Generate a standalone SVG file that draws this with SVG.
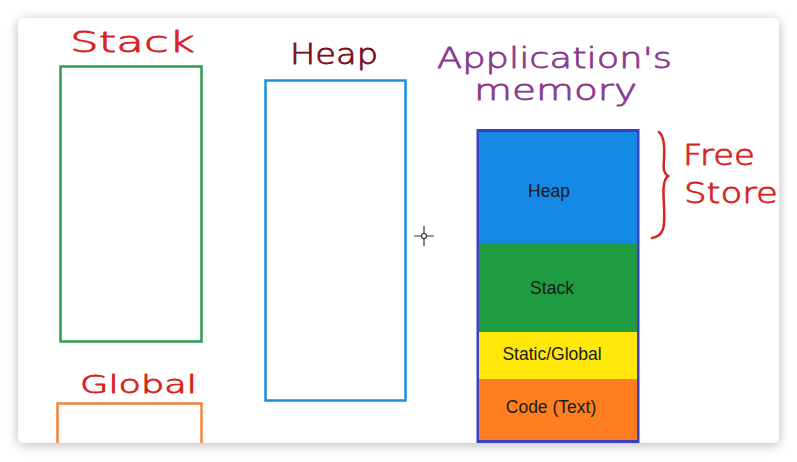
<svg xmlns="http://www.w3.org/2000/svg" width="797" height="462" viewBox="0 0 797 462">
<defs>
<filter id="sh" x="-5%" y="-5%" width="110%" height="115%">
<feDropShadow dx="0" dy="2" stdDeviation="6" flood-color="#000" flood-opacity="0.28"/>
</filter>
<clipPath id="card"><rect x="18" y="18" width="761" height="425" rx="6"/></clipPath>
<style>
.hw{font-family:"DejaVu Sans","Liberation Sans",sans-serif;font-weight:200;stroke-width:0.8;stroke-linejoin:round}
.red{fill:#d8231f;stroke:#d8231f}
.lbl{font-family:"Liberation Sans",Arial,sans-serif;font-size:17.5px;fill:#1a1a1a;text-anchor:middle}
.box{fill:none;stroke-width:2.5}
</style>
</defs>
<rect width="797" height="462" fill="#ffffff"/>
<rect x="18" y="18" width="761" height="425" rx="6" fill="#ffffff" filter="url(#sh)"/>
<g clip-path="url(#card)">
<g id="stack-box">
<text class="hw red" x="70" y="52" font-size="29" textLength="125" lengthAdjust="spacingAndGlyphs">Stack</text>
<rect class="box" x="60.5" y="66.5" width="141" height="275" stroke="#2e9b52"/>
</g>
<g id="heap-box">
<text class="hw" x="290" y="64" font-size="29" fill="#7a0d1e" stroke="#7a0d1e" textLength="88" lengthAdjust="spacingAndGlyphs">Heap</text>
<rect class="box" x="265.5" y="80.5" width="140" height="320" stroke="#1e90d8"/>
</g>
<g id="global-box">
<text class="hw red" x="80" y="393" font-size="24" textLength="117" lengthAdjust="spacingAndGlyphs">Global</text>
<rect class="box" x="57.5" y="403.5" width="144" height="60" stroke="#f5823a"/>
</g>
<g id="title">
<text class="hw" x="437" y="68" font-size="29" fill="#8b3b8f" stroke="#8b3b8f" textLength="235" lengthAdjust="spacingAndGlyphs">Application's</text>
<text class="hw" x="474" y="100" font-size="29" fill="#8b3b8f" stroke="#8b3b8f" textLength="163" lengthAdjust="spacingAndGlyphs">memory</text>
</g>
<g id="memory">
<rect x="476.5" y="129" width="163" height="320" fill="#3a3fc4"/>
<rect x="479" y="132" width="158" height="111" fill="#148ae6"/>
<rect x="479" y="243" width="158" height="89" fill="#1f9c41"/>
<rect x="479" y="332" width="158" height="47" fill="#ffe70a"/>
<rect x="479" y="379" width="158" height="61" fill="#ff7e20"/>
<text class="lbl" x="549" y="197">Heap</text>
<text class="lbl" x="552" y="294">Stack</text>
<text class="lbl" x="552" y="360">Static/Global</text>
<text class="lbl" x="551" y="413">Code (Text)</text>
</g>
<g id="free-store">
<path d="M659,132 C664,136 665,145 664,160 C663,170 664,173 668,176 C663,180 663,190 664,205 C665,225 665,236 652,238" fill="none" stroke="#d8231f" stroke-width="2.5" stroke-linecap="round"/>
<text class="hw red" x="683" y="165" font-size="29" textLength="72" lengthAdjust="spacingAndGlyphs">Free</text>
<text class="hw red" x="684" y="203" font-size="29" textLength="94" lengthAdjust="spacingAndGlyphs">Store</text>
</g>
<g id="cursor" stroke="#333" stroke-width="1.2" fill="none">
<line x1="414" y1="236" x2="434" y2="236"/>
<line x1="424" y1="226" x2="424" y2="246"/>
<circle cx="424" cy="236" r="2.5" fill="#fff"/>
</g>
</g>
</svg>
